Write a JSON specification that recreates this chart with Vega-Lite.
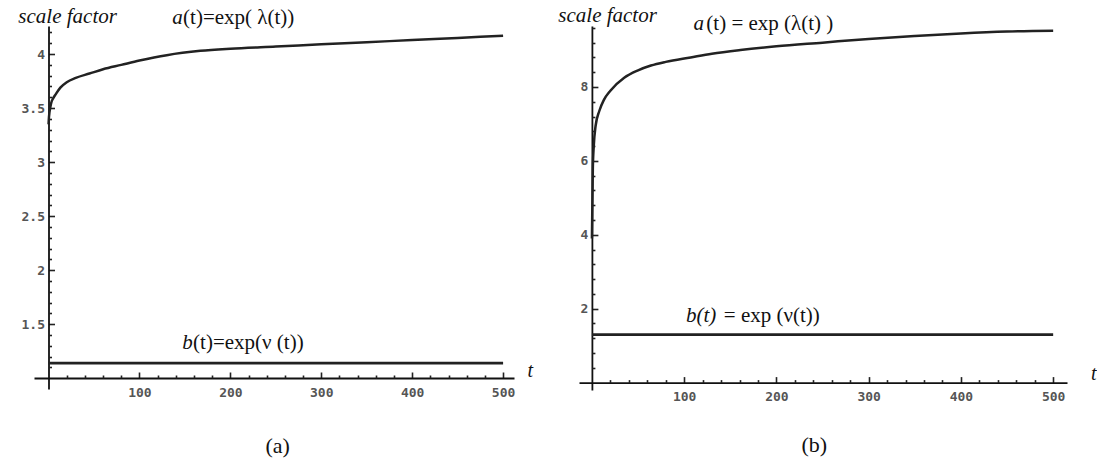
{
  "$schema": "https://vega.github.io/schema/vega-lite/v6.json",
  "background": "white",
  "padding": {"left": 18, "top": 5, "right": 0, "bottom": 0},
  "bounds": "flush",
  "spacing": 65,
  "config": {
    "view": {"stroke": null},
    "axis": {
      "domainColor": "#111",
      "domainWidth": 1.8,
      "tickColor": "#222",
      "tickWidth": 1.6,
      "labelFont": "DejaVu Sans Mono",
      "labelFontWeight": "bold",
      "labelFontSize": 13,
      "labelColor": "#555",
      "grid": false,
      "title": null
    },
    "text": {"font": "Liberation Serif", "color": "#111", "baseline": "middle"}
  },
  "datasets": {
    "aL": [
      {"t": 0, "value": 3.35}, {"t": 0.5, "value": 3.42}, {"t": 1, "value": 3.46}, {"t": 2, "value": 3.51},
      {"t": 3, "value": 3.55}, {"t": 5, "value": 3.59}, {"t": 8, "value": 3.63}, {"t": 13, "value": 3.69},
      {"t": 20, "value": 3.74}, {"t": 30, "value": 3.78}, {"t": 45, "value": 3.82}, {"t": 60, "value": 3.86},
      {"t": 80, "value": 3.9}, {"t": 100, "value": 3.94}, {"t": 130, "value": 3.99}, {"t": 167, "value": 4.03},
      {"t": 200, "value": 4.05}, {"t": 250, "value": 4.07}, {"t": 300, "value": 4.09}, {"t": 350, "value": 4.11},
      {"t": 400, "value": 4.13}, {"t": 450, "value": 4.15}, {"t": 500, "value": 4.17}
    ],
    "bL": [{"t": 0, "value": 1.14}, {"t": 500, "value": 1.14}],
    "aR": [
      {"t": 0, "value": 3.9}, {"t": 1, "value": 5.8}, {"t": 2, "value": 6.4}, {"t": 4, "value": 6.95},
      {"t": 8, "value": 7.35}, {"t": 13, "value": 7.65}, {"t": 20, "value": 7.9}, {"t": 35, "value": 8.25},
      {"t": 50, "value": 8.45}, {"t": 64, "value": 8.58}, {"t": 80, "value": 8.68}, {"t": 107, "value": 8.8},
      {"t": 130, "value": 8.9}, {"t": 161, "value": 9.0}, {"t": 200, "value": 9.1}, {"t": 250, "value": 9.2},
      {"t": 300, "value": 9.3}, {"t": 350, "value": 9.38}, {"t": 400, "value": 9.45}, {"t": 450, "value": 9.5},
      {"t": 500, "value": 9.52}
    ],
    "bR": [{"t": 0, "value": 1.3}, {"t": 500, "value": 1.3}]
  },
  "hconcat": [
    {
      "width": 480,
      "height": 363,
      "resolve": {"axis": {"x": "independent", "y": "independent"}},
      "layer": [
        {
          "data": {"name": "aL"},
          "mark": {"type": "line", "color": "#222", "strokeWidth": 2.5, "interpolate": "monotone"},
          "encoding": {
            "x": {
              "field": "t", "type": "quantitative",
              "scale": {"domain": [-16, 512], "nice": false, "zero": false},
              "axis": {
                "orient": "bottom", "offset": -11, "title": null,
                "values": [100, 200, 300, 400, 500],
                "format": "d", "tickSize": -6, "labelPadding": 14
              }
            },
            "y": {
              "field": "value", "type": "quantitative",
              "scale": {"domain": [0.9, 4.26], "nice": false, "zero": false},
              "axis": {
                "orient": "left", "offset": -14.5, "title": null,
                "values": [1.5, 2, 2.5, 3, 3.5, 4],
                "format": "~g", "tickSize": -6, "labelPadding": 10
              }
            }
          }
        },
        {
          "data": {"name": "bL"},
          "mark": {"type": "line", "color": "#222", "strokeWidth": 2.7},
          "encoding": {
            "x": {
              "field": "t", "type": "quantitative",
              "axis": {
                "orient": "bottom", "offset": -11, "title": null, "labels": false, "domain": false,
                "values": [20,40,60,80,120,140,160,180,220,240,260,280,320,340,360,380,420,440,460,480],
                "tickSize": -3
              }
            },
            "y": {
              "field": "value", "type": "quantitative",
              "axis": {
                "orient": "left", "offset": -14.5, "title": null, "labels": false, "domain": false,
                "values": [1.1,1.2,1.3,1.4,1.6,1.7,1.8,1.9,2.1,2.2,2.3,2.4,2.6,2.7,2.8,2.9,3.1,3.2,3.3,3.4,3.6,3.7,3.8,3.9,4.1,4.2],
                "tickSize": -3
              }
            }
          }
        },
        {
          "data": {"values": [{}]},
          "mark": {"type": "text", "text": "scale factor", "fontStyle": "italic", "fontSize": 21, "align": "center"},
          "encoding": {"x": {"datum": 21, "axis": null}, "y": {"datum": 4.34, "axis": null}}
        },
        {
          "data": {"values": [{}]},
          "mark": {"type": "text", "text": "a", "fontStyle": "italic", "fontSize": 21, "align": "left"},
          "encoding": {"x": {"datum": 136, "axis": null}, "y": {"datum": 4.33, "axis": null}}
        },
        {
          "data": {"values": [{}]},
          "mark": {"type": "text", "text": "(t)=exp( λ(t))", "fontSize": 21, "align": "left"},
          "encoding": {"x": {"datum": 148, "axis": null}, "y": {"datum": 4.33, "axis": null}}
        },
        {
          "data": {"values": [{}]},
          "mark": {"type": "text", "text": "b", "fontStyle": "italic", "fontSize": 21, "align": "left"},
          "encoding": {"x": {"datum": 147, "axis": null}, "y": {"datum": 1.33, "axis": null}}
        },
        {
          "data": {"values": [{}]},
          "mark": {"type": "text", "text": "(t)=exp(ν (t))", "fontSize": 21, "align": "left"},
          "encoding": {"x": {"datum": 159, "axis": null}, "y": {"datum": 1.33, "axis": null}}
        },
        {
          "data": {"values": [{}]},
          "mark": {"type": "text", "text": "t", "fontStyle": "italic", "fontSize": 20, "align": "center"},
          "encoding": {"x": {"datum": 530, "axis": null}, "y": {"datum": 1.065, "axis": null}}
        },
        {
          "data": {"values": [{}]},
          "mark": {"type": "text", "text": "(a)", "fontSize": 22, "align": "center"},
          "encoding": {"x": {"datum": 252, "axis": null}, "y": {"datum": 0.37, "axis": null}}
        }
      ]
    },
    {
      "width": 488,
      "height": 364,
      "resolve": {"axis": {"x": "independent", "y": "independent"}},
      "layer": [
        {
          "data": {"name": "aR"},
          "mark": {"type": "line", "color": "#222", "strokeWidth": 2.5, "interpolate": "monotone"},
          "encoding": {
            "x": {
              "field": "t", "type": "quantitative",
              "scale": {"domain": [-14, 515], "nice": false, "zero": false},
              "axis": {
                "orient": "bottom", "offset": -7.4, "title": null,
                "values": [100, 200, 300, 400, 500],
                "format": "d", "tickSize": -6, "labelPadding": 14
              }
            },
            "y": {
              "field": "value", "type": "quantitative",
              "scale": {"domain": [-0.2, 9.65], "nice": false, "zero": false},
              "axis": {
                "orient": "left", "offset": -12.9, "title": null,
                "values": [2, 4, 6, 8],
                "format": "~g", "tickSize": -6, "labelPadding": 10
              }
            }
          }
        },
        {
          "data": {"name": "bR"},
          "mark": {"type": "line", "color": "#222", "strokeWidth": 2.7},
          "encoding": {
            "x": {
              "field": "t", "type": "quantitative",
              "axis": {
                "orient": "bottom", "offset": -7.4, "title": null, "labels": false, "domain": false,
                "values": [20,40,60,80,120,140,160,180,220,240,260,280,320,340,360,380,420,440,460,480],
                "tickSize": -3
              }
            },
            "y": {
              "field": "value", "type": "quantitative",
              "axis": {
                "orient": "left", "offset": -12.9, "title": null, "labels": false, "domain": false,
                "values": [0.4,0.8,1.2,1.6,2.4,2.8,3.2,3.6,4.4,4.8,5.2,5.6,6.4,6.8,7.2,7.6,8.4,8.8,9.2,9.6],
                "tickSize": -3
              }
            }
          }
        },
        {
          "data": {"values": [{}]},
          "mark": {"type": "text", "text": "scale factor", "fontStyle": "italic", "fontSize": 21, "align": "center"},
          "encoding": {"x": {"datum": 17, "axis": null}, "y": {"datum": 9.92, "axis": null}}
        },
        {
          "data": {"values": [{}]},
          "mark": {"type": "text", "text": "a", "fontStyle": "italic", "fontSize": 21, "align": "left"},
          "encoding": {"x": {"datum": 110, "axis": null}, "y": {"datum": 9.7, "axis": null}}
        },
        {
          "data": {"values": [{}]},
          "mark": {"type": "text", "text": "(t) = exp (λ(t) )", "fontSize": 21, "align": "left"},
          "encoding": {"x": {"datum": 124, "axis": null}, "y": {"datum": 9.7, "axis": null}}
        },
        {
          "data": {"values": [{}]},
          "mark": {"type": "text", "text": "b(t)", "fontStyle": "italic", "fontSize": 21, "align": "left"},
          "encoding": {"x": {"datum": 102, "axis": null}, "y": {"datum": 1.81, "axis": null}}
        },
        {
          "data": {"values": [{}]},
          "mark": {"type": "text", "text": "= exp (ν(t))", "fontSize": 21, "align": "left"},
          "encoding": {"x": {"datum": 143, "axis": null}, "y": {"datum": 1.81, "axis": null}}
        },
        {
          "data": {"values": [{}]},
          "mark": {"type": "text", "text": "t", "fontStyle": "italic", "fontSize": 20, "align": "center"},
          "encoding": {"x": {"datum": 544, "axis": null}, "y": {"datum": 0.24, "axis": null}}
        },
        {
          "data": {"values": [{}]},
          "mark": {"type": "text", "text": "(b)", "fontSize": 22, "align": "center"},
          "encoding": {"x": {"datum": 241, "axis": null}, "y": {"datum": -1.7, "axis": null}}
        }
      ]
    }
  ]
}
